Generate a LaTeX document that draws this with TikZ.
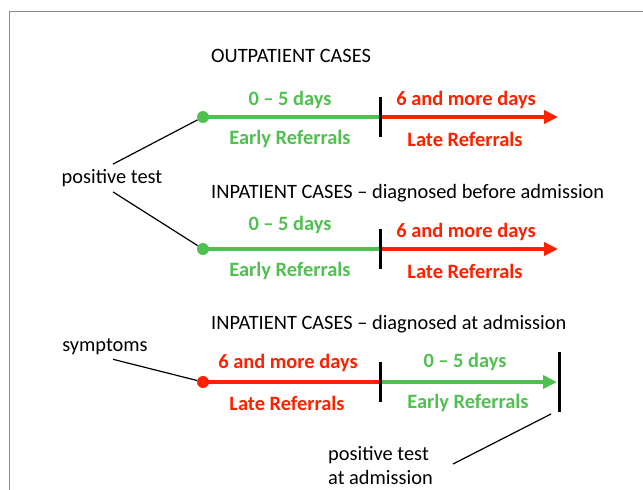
\documentclass[tikz,border=0pt]{standalone}
\usepackage{fontspec}
\setmainfont{Carlito}
\usetikzlibrary{arrows.meta,positioning}

\definecolor{early}{RGB}{80,192,80}
\definecolor{late}{RGB}{255,32,0}

\begin{document}
\begin{tikzpicture}[x=1pt,y=-1pt]
			\tikzset{
				Dot/.style	= {circle, inner sep=0pt, minimum size=12pt},
				Head/.style	= {anchor=west, inner sep=0pt, font=\fontsize{20.4}{24}\selectfont},
				Txt/.style	= {inner sep=0pt, font=\fontsize{20.4}{24}\selectfont},
				Lbl/.style	= {inner sep=0pt, font=\fontsize{20.4}{24}\selectfont\bfseries},
				EL/.style	= {line width=4pt, early},
				LL/.style	= {line width=4pt, late},
				Tip/.style	= {-{Triangle[length=14pt,width=13pt]}},
				Mark/.style	= {line width=3pt, black},
				Pointer/.style	= {line width=1.2pt, black}
			}
			\useasboundingbox (0,0) rectangle (643,490);
			\draw [gray!90, line width=1pt] (9,491) -- (9,11) -- (644,11);

			% headings
			\node (h1) at (211,56) [Head] {OUTPATIENT CASES};
			\node (h2) at (211,193) [Head] {INPATIENT CASES -- diagnosed before admission};
			\node (h3) at (211,324) [Head] {INPATIENT CASES -- diagnosed at admission};

			% rows 1 and 2: early then late
			\foreach \r/\y/\ya/\yb in {1/117/100/100, 2/249/225/232}{
				\node (d\r) at (203,\y) [Dot, fill=early] {};
				\coordinate (m\r) at (380,\y);
				\coordinate (e\r) at (558,\y);
				\draw [EL] (d\r.center) -- (m\r);
				\draw [LL, Tip] (m\r) -- (e\r);
				\draw [Mark] ([yshift=20pt]m\r) -- ([yshift=-20pt]m\r);
				\node (a\r) at (290,\ya) [Lbl, early] {0 -- 5 days};
				\node (b\r) at (466,\yb) [Lbl, late] {6 and more days};
				\node (c\r) at (290,\y+22) [Lbl, early] {Early Referrals};
				\node (f\r) at (465,\y+22) [Lbl, late] {Late Referrals};
			}

			% row 3: late then early
			\node (d3) at (203,382) [Dot, fill=late] {};
			\coordinate (m3) at (380,382);
			\coordinate (e3) at (557,382);
			\draw [LL] (d3.center) -- (m3);
			\draw [EL, Tip] (m3) -- (e3);
			\draw [Mark] ([yshift=20pt]m3) -- ([yshift=-20pt]m3);
			\draw [Mark] (559,352) -- (559,412);
			\node (b3) at (288,363) [Lbl, late] {6 and more days};
			\node (f3) at (287,403) [Lbl, late] {Late Referrals};
			\node (a3) at (465,362) [Lbl, early] {0 -- 5 days};
			\node (c3) at (468,403) [Lbl, early] {Early Referrals};

			% side labels
			\node (pt) at (112,178) [Txt, inner ysep=5pt] {positive test};
			\node (sy) at (105,347) [Txt, inner ysep=4pt] {symptoms};
			\node (pa) at (328,466) [Txt, anchor=west, align=left] {positive test\\at admission};
			\coordinate (pe) at (551,414);

			\draw [Pointer] ([xshift=1pt]pt.north) -- (d1);
			\draw [Pointer] ([xshift=1pt]pt.south) -- (d2);
			\draw [Pointer] ([xshift=8pt]sy.south) -- (d3);
			\draw [Pointer] ([xshift=20pt,yshift=2pt]pa.east) -- (pe);
		\end{tikzpicture}
\end{document}
